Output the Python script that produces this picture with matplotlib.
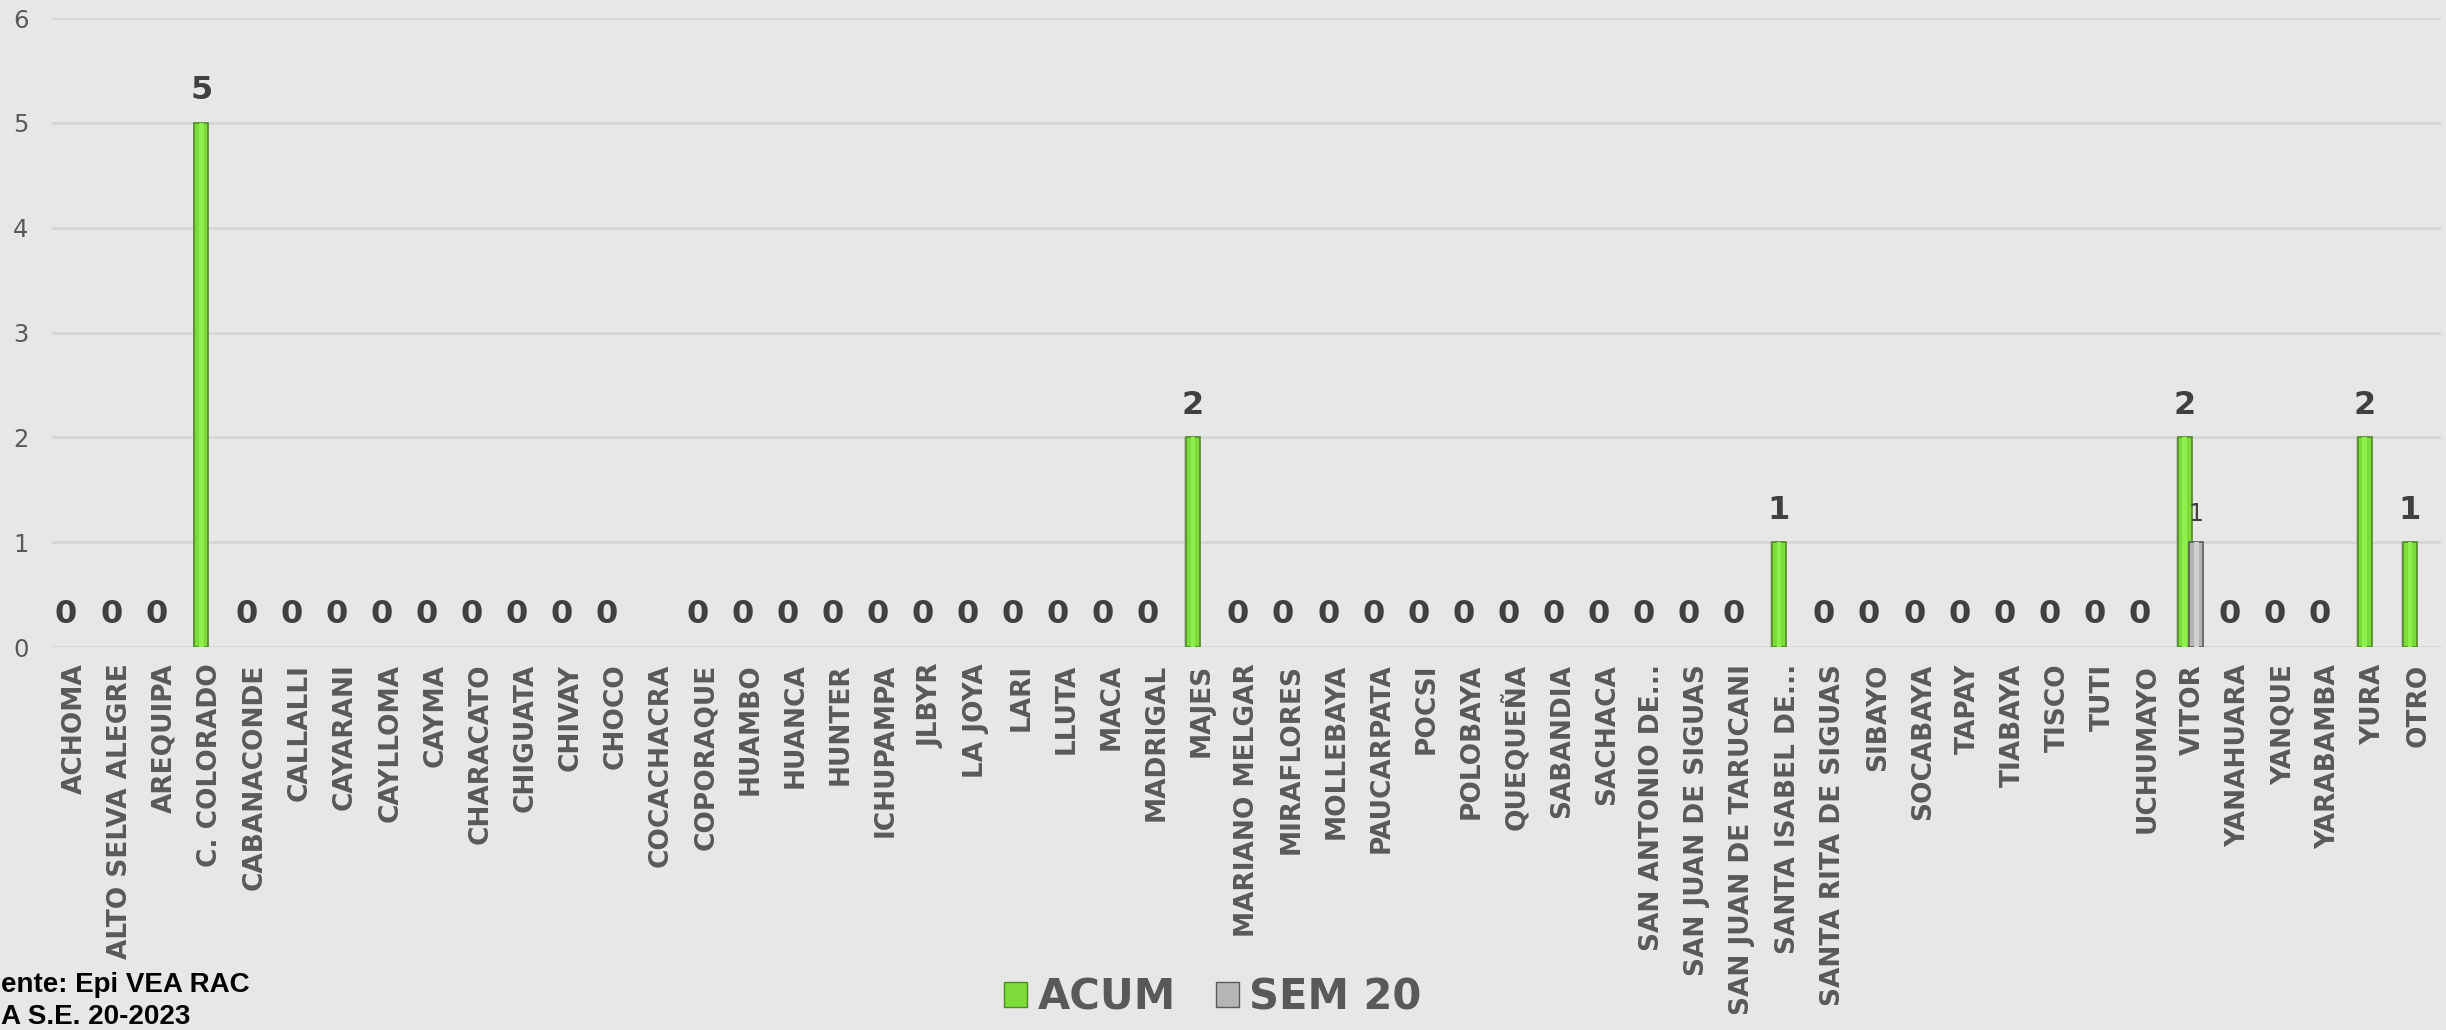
import matplotlib
matplotlib.use("Agg")
import matplotlib.pyplot as plt
from matplotlib.patches import Patch
import numpy as np

# distritos y casos
distritos = ["ACHOMA", "ALTO SELVA ALEGRE", "AREQUIPA", "C. COLORADO", "CABANACONDE",
             "CALLALLI", "CAYARANI", "CAYLLOMA", "CAYMA", "CHARACATO", "CHIGUATA",
             "CHIVAY", "CHOCO", "COCACHACRA", "COPORAQUE", "HUAMBO", "HUANCA", "HUNTER",
             "ICHUPAMPA", "JLBYR", "LA JOYA", "LARI", "LLUTA", "MACA", "MADRIGAL", "MAJES",
             "MARIANO MELGAR", "MIRAFLORES", "MOLLEBAYA", "PAUCARPATA", "POCSI", "POLOBAYA",
             "QUEQUEÑA", "SABANDIA", "SACHACA", "SAN ANTONIO DE...", "SAN JUAN DE SIGUAS",
             "SAN JUAN DE TARUCANI", "SANTA ISABEL DE...", "SANTA RITA DE SIGUAS", "SIBAYO",
             "SOCABAYA", "TAPAY", "TIABAYA", "TISCO", "TUTI", "UCHUMAYO", "VITOR",
             "YANAHUARA", "YANQUE", "YARABAMBA", "YURA", "OTRO"]

# COCACHACRA sin dato
acum = [0, 0, 0, 5, 0, 0, 0, 0, 0, 0, 0, 0, 0, None, 0, 0, 0, 0, 0, 0, 0, 0, 0, 0, 0, 2,
        0, 0, 0, 0, 0, 0, 0, 0, 0, 0, 0, 0, 1, 0, 0, 0, 0, 0, 0, 0, 0, 2, 0, 0, 0, 2, 1]
sem20 = [0] * 47 + [1] + [0] * 5

nombres_serie = ["ACUM", "SEM 20"]
notas = ["ente: Epi VEA RAC", "A S.E. 20-2023"]

fondo = "#e7e7e7"
verde = "#7ddc3a"
verde_borde = "#4e8c22"
gris = "#b5b5b5"
gris_borde = "#5a5a5a"
txt_gris = "#595959"
txt_osc = "#404040"

fig = plt.figure(figsize=(24.46, 10.30), dpi=100)
fig.patch.set_facecolor(fondo)
ax = fig.add_axes([0.0213, 0.3718, 0.9767, 0.6107])
ax.set_facecolor(fondo)

x = np.arange(len(distritos))
ya = np.array([np.nan if v is None else v for v in acum], dtype=float)
ys = np.array(sem20, dtype=float)
w = 0.31
off_a = -0.19
off_s = 0.065

barras = []
# sombra suave a la izquierda de las barras
barras += ax.bar(x + off_a - 0.035, ya, w, color="#8f8f8f", alpha=0.4, linewidth=0, zorder=2).patches
barras += ax.bar(x + off_s - 0.035, ys, w, color="#8f8f8f", alpha=0.4, linewidth=0, zorder=2).patches

barras += ax.bar(x + off_a, ya, w, color=verde, edgecolor=verde_borde, linewidth=1.2,
                 zorder=3).patches
barras += ax.bar(x + off_s, ys, w, color=gris, edgecolor=gris_borde, linewidth=1.2,
                 zorder=4).patches
# brillo central
barras += ax.bar(x + off_a, ya, w * 0.35, color="#8ef04a", linewidth=0, zorder=3.5).patches
barras += ax.bar(x + off_s, ys, w * 0.35, color="#d0d0d0", linewidth=0, zorder=4.5).patches

# barras en cero no se dibujan
for p in barras:
    if not p.get_height() > 0:
        p.set_visible(False)

for xi, v in zip(x, ya):
    if np.isnan(v):
        continue
    ax.annotate("%d" % v, (xi + off_a, v), xytext=(0, 12), textcoords="offset points",
                ha="center", va="bottom", fontsize=23, fontweight="bold", color=txt_osc,
                family="DejaVu Sans")
for xi, v in zip(x, ys):
    if v > 0:
        ax.annotate("%d" % v, (xi + off_s, v), xytext=(0, 12), textcoords="offset points",
                    ha="center", va="bottom", fontsize=17, color=txt_osc,
                    family="DejaVu Sans")

ax.set_xlim(-0.5, len(distritos) - 0.5)
ax.set_ylim(0, 6)
ax.set_yticks(range(0, 7))
ax.yaxis.grid(True, color="#d6d6d6", linewidth=2, zorder=0)
ax.set_axisbelow(True)
for s in ax.spines.values():
    s.set_visible(False)
ax.tick_params(axis="y", length=0, pad=17, labelsize=17.5, labelcolor=txt_gris)
ax.tick_params(axis="x", length=0, pad=12)
ax.set_xticks(x)
ax.set_xticklabels(distritos, rotation=90, fontsize=19, fontweight="bold",
                   color=txt_gris, ha="center", va="top")

leg = fig.legend(handles=[Patch(facecolor=verde, edgecolor=verde_borde),
                          Patch(facecolor=gris, edgecolor=gris_borde)],
                 labels=nombres_serie, loc="center", bbox_to_anchor=(1213 / 2446, 1 - 997 / 1030),
                 ncol=2, frameon=False, handlelength=0.56, handleheight=0.56,
                 handletextpad=0.25, columnspacing=0.95,
                 prop={"size": 30, "weight": "bold"})
for t in leg.get_texts():
    t.set_color(txt_gris)

fig.text(1 / 2446, 1 - 992 / 1030, notas[0], ha="left", va="baseline",
         fontsize=20, fontweight="bold", family="Liberation Sans", color="black")
fig.text(1 / 2446, 1 - 1024 / 1030, notas[1], ha="left", va="baseline",
         fontsize=20, fontweight="bold", family="Liberation Sans", color="black")

fig.savefig("out.png", dpi=100, facecolor=fondo)
